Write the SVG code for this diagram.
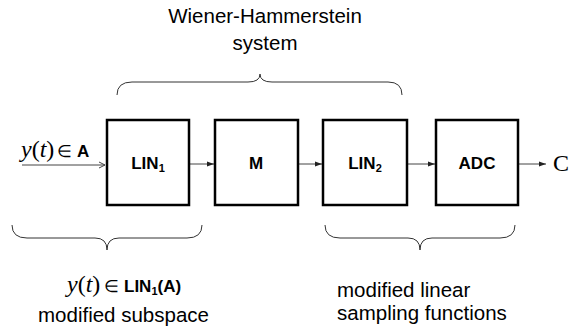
<svg xmlns="http://www.w3.org/2000/svg" width="570" height="332" viewBox="0 0 570 332">
<style>
.box{fill:#fff;stroke:#000;stroke-width:2.5}
.lbl{font-family:"Liberation Sans",Arial,sans-serif;font-weight:bold;font-size:17px;fill:#000}
.sub{font-size:11px}
.txt{font-family:"Liberation Sans",Arial,sans-serif;font-size:20.5px;fill:#000}
.mth{font-family:"Liberation Serif","Times New Roman",serif;font-size:24px;fill:#000}
.it{font-style:italic}
.el{font-family:"Liberation Serif","Times New Roman",serif;font-size:17px;fill:#000}
.conn{stroke:#444;stroke-width:1;fill:none}
.brace{stroke:#333;stroke-width:1;fill:none}
</style>
<defs>
<marker id="ah" markerWidth="8" markerHeight="8" refX="7" refY="4" orient="auto" markerUnits="userSpaceOnUse">
<path d="M0,1.5 L7,4 L0,6.5 Z" fill="#222"/>
</marker>
<marker id="oh" markerWidth="9" markerHeight="9" refX="7" refY="4.5" orient="auto" markerUnits="userSpaceOnUse">
<path d="M1,1.5 L7,4.5 L1,7.5" fill="none" stroke="#444" stroke-width="1"/>
</marker>
</defs>
<g id="title">
<text class="txt" x="265" y="23" text-anchor="middle">Wiener-Hammerstein</text>
<text class="txt" x="265" y="50" text-anchor="middle">system</text>
</g>
<g id="braces">
<path class="brace" d="M117,95 Q117,82 132,82 L248,82 Q260,82 260,74 Q260,82 272,82 L388,82 Q402,82 402,95"/>
<path class="brace" d="M12,225 Q12,238 27,238 L95,238 Q107,238 107,250 Q107,238 119,238 L187,238 Q202,238 202,225"/>
<path class="brace" d="M325,225 Q325,238 340,238 L408,238 Q420,238 420,250 Q420,238 432,238 L500,238 Q515,238 515,225"/>
</g>
<g id="connectors">
<line class="conn" x1="22" y1="165" x2="105" y2="165" marker-end="url(#oh)"/>
<line class="conn" x1="190" y1="164" x2="214" y2="164" marker-end="url(#ah)"/>
<line class="conn" x1="298" y1="164" x2="322" y2="164" marker-end="url(#ah)"/>
<line class="conn" x1="407" y1="164" x2="435" y2="164" marker-end="url(#ah)"/>
<line class="conn" x1="518" y1="164" x2="546" y2="164" marker-end="url(#ah)"/>
</g>
<g id="input-label">
<text class="mth" x="21" y="157"><tspan class="it">y</tspan>(<tspan class="it">t</tspan>)</text>
<text class="el" x="57" y="157">∈</text>
<text class="lbl" x="77" y="157" font-size="15">A</text>
</g>
<g id="LIN1">
<rect class="box" x="107" y="120" width="82" height="85"/>
<text class="lbl" x="148" y="169" text-anchor="middle">LIN<tspan class="sub" dy="3">1</tspan></text>
</g>
<g id="M">
<rect class="box" x="215" y="120" width="83" height="85"/>
<text class="lbl" x="256" y="169" text-anchor="middle">M</text>
</g>
<g id="LIN2">
<rect class="box" x="323" y="120" width="84" height="85"/>
<text class="lbl" x="365" y="169" text-anchor="middle">LIN<tspan class="sub" dy="3">2</tspan></text>
</g>
<g id="ADC">
<rect class="box" x="436" y="120" width="82" height="85"/>
<text class="lbl" x="477" y="169" text-anchor="middle">ADC</text>
</g>
<g id="output">
<text class="mth" x="553" y="171" font-size="23">C</text>
</g>
<g id="lin1-label">
<text class="mth" x="67" y="292"><tspan class="it">y</tspan>(<tspan class="it">t</tspan>)</text>
<text class="el" x="104" y="292">∈</text>
<text class="lbl" x="124" y="292" font-size="18">LIN<tspan class="sub" font-size="12" dy="3">1</tspan><tspan dy="-3">(A)</tspan></text>
</g>
<g id="lin1-caption">
<text class="txt" x="38" y="322">modified subspace</text>
</g>
<g id="lin2-label">
<text class="txt" x="337" y="297">modified linear</text>
<text class="txt" x="337" y="320">sampling functions</text>
</g>
</svg>
